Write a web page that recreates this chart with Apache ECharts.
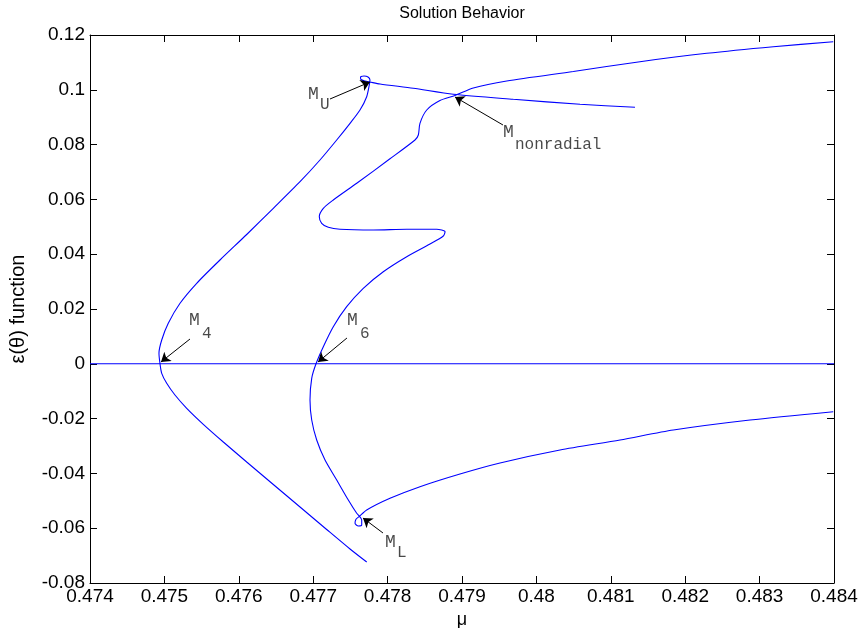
<!DOCTYPE html>
<html><head><meta charset="utf-8">
<script src="https://cdn.jsdelivr.net/npm/echarts@6/dist/echarts.min.js"></script>
<style>html,body{margin:0;padding:0;background:#fff}#c{width:860px;height:628px}</style>
</head><body><div id="c"></div>
<script>
// trivial solution
const trivialBranch = [[0.474, 0], [0.484, 0]];
// branch through M4: right end of upper arm -> M_U loop -> M4 -> lower end
const branchM4 = [
  [0.481325, 0.09361], [0.480586, 0.09471], [0.479690, 0.09653], [0.478883, 0.09836],
  [0.478345, 0.10055], [0.477898, 0.10212], [0.477763, 0.10285], [0.477696, 0.10321],
  [0.477642, 0.10376], [0.477636, 0.10467], [0.477683, 0.10504], [0.477737, 0.10467],
  [0.477763, 0.10358], [0.477754, 0.10175], [0.477719, 0.09748], [0.477629, 0.09263],
  [0.477495, 0.08777], [0.477316, 0.08168], [0.477091, 0.07438], [0.476823, 0.06646],
  [0.476464, 0.05675], [0.476106, 0.04719], [0.475747, 0.03788], [0.475434, 0.02938],
  [0.475210, 0.02208], [0.475052, 0.01478], [0.474964, 0.00869], [0.474927, 0.00383],
  [0.474941, 0.0], [0.474964, -0.00347], [0.475031, -0.00712], [0.475142, -0.01139],
  [0.475300, -0.01624], [0.475523, -0.02208], [0.475792, -0.02854], [0.476106, -0.03584],
  [0.476464, -0.04405], [0.476823, -0.05226], [0.477181, -0.06047], [0.477495, -0.06759],
  [0.477719, -0.07234]
];
// branch through M6: upper right end -> M_nonradial -> S-wiggle -> M6 -> M_L loop -> lower right end
const branchM6 = [
  [0.48399, 0.11755], [0.483184, 0.11573], [0.482289, 0.11332], [0.481392, 0.11026],
  [0.480496, 0.10668], [0.479601, 0.10321], [0.479152, 0.10066], [0.478906, 0.09792],
  [0.478704, 0.09609], [0.478526, 0.09263], [0.478435, 0.08777], [0.478413, 0.08350],
  [0.478368, 0.08168], [0.478032, 0.07482], [0.477585, 0.06588], [0.477270, 0.05978],
  [0.477136, 0.05675], [0.477082, 0.05369], [0.477114, 0.05128], [0.477203, 0.04982],
  [0.477360, 0.04909], [0.477808, 0.04883], [0.478257, 0.04909], [0.478660, 0.04909],
  [0.478772, 0.04821], [0.478749, 0.04664], [0.478570, 0.04372], [0.478257, 0.03909],
  [0.477942, 0.03361], [0.477673, 0.02755], [0.477450, 0.02084], [0.477270, 0.01354],
  [0.477136, 0.00624], [0.477038, 0.0], [0.476980, -0.00529], [0.476957, -0.01321],
  [0.476980, -0.02051], [0.477047, -0.02781], [0.477159, -0.03511], [0.477316, -0.04241],
  [0.477472, -0.04971], [0.477585, -0.05456], [0.477616, -0.05544], [0.477652, -0.05701],
  [0.477652, -0.05883], [0.477606, -0.05920], [0.477562, -0.05821], [0.477575, -0.05675],
  [0.477616, -0.05580], [0.477719, -0.05336], [0.478032, -0.04909], [0.478435, -0.04485],
  [0.478973, -0.04022], [0.479511, -0.03620], [0.480317, -0.03146], [0.481124, -0.02781],
  [0.481840, -0.02416], [0.482871, -0.02051], [0.48399, -0.01748]
];
// annotation texts and arrows
const labelSubs = ['U', 'nonradial', '4', '6', 'L'];
const labelMPos = [[0.476930, 0.10175], [0.479551, 0.08763], [0.475330, 0.01927], [0.477454, 0.01927], [0.477965, -0.06175]];
const labelSubPos = [[0.477091, 0.09737], [0.479712, 0.08277], [0.475505, 0.01380], [0.477629, 0.01380], [0.478126, -0.06613]];
const arrowTails = [[0.477226, 0.09664], [0.479551, 0.08715], [0.475344, 0.00905], [0.477454, 0.00942], [0.477938, -0.06175]];
const arrowHeads = [[0.477763, 0.10285], [0.478906, 0.09737], [0.474954, 0.00066], [0.477065, 0.00066], [0.477669, -0.05628]];

const chart = echarts.init(document.getElementById('c'), null, {renderer: 'canvas'});
const sansFont = 'Liberation Sans, Arial, Helvetica, sans-serif';
const monoFont = 'Liberation Mono, Courier New, monospace';
const tickStyle = {show: true, inside: true, length: 7, lineStyle: {color: '#000', width: 1}};
const lineAxis = {show: true, onZero: false, lineStyle: {color: '#000', width: 1}};

const curveSeries = (data) => ({
  type: 'line', data, showSymbol: false, symbol: 'none', smooth: 0.25,
  lineStyle: {color: '#0000ff', width: 1.1}, itemStyle: {color: '#0000ff'},
  animation: false, silent: true, z: 2
});

const option = {
  animation: false,
  backgroundColor: '#fff',
  grid: {left: 90, right: 26, top: 35, bottom: 45, containLabel: false, outerBoundsMode: 'none'},
  graphic: [{
    type: 'text', x: 462, y: 6,
    style: {text: 'Solution Behavior', textAlign: 'center', fill: '#000', font: '16px ' + sansFont}
  }],
  xAxis: [{
    type: 'value', min: 0.474, max: 0.484, interval: 0.001, position: 'bottom',
    name: 'μ', nameLocation: 'middle', nameGap: 19,
    nameTextStyle: {color: '#000', fontSize: 18, fontFamily: sansFont},
    axisLine: lineAxis, axisTick: tickStyle, splitLine: {show: false},
    axisLabel: {color: '#000', fontSize: 19, fontFamily: sansFont, margin: 4}
  }, {
    type: 'value', min: 0.474, max: 0.484, interval: 0.001, position: 'top',
    axisLine: lineAxis, axisTick: tickStyle, splitLine: {show: false}, axisLabel: {show: false}
  }],
  yAxis: [{
    type: 'value', min: -0.08, max: 0.12, interval: 0.02, position: 'left',
    name: 'ε(θ) function', nameLocation: 'middle', nameGap: 62, nameRotate: 90,
    nameTextStyle: {color: '#000', fontSize: 20, fontFamily: sansFont},
    axisLine: lineAxis, axisTick: tickStyle, splitLine: {show: false},
    axisLabel: {color: '#000', fontSize: 19, fontFamily: sansFont, margin: 5}
  }, {
    type: 'value', min: -0.08, max: 0.12, interval: 0.02, position: 'right',
    axisLine: lineAxis, axisTick: tickStyle, splitLine: {show: false}, axisLabel: {show: false}
  }],
  series: [
    curveSeries(trivialBranch),
    curveSeries(branchM4),
    curveSeries(branchM6),
    {
      type: 'lines', coordinateSystem: 'cartesian2d', polyline: false,
      data: arrowTails.map((t, i) => ({coords: [t, arrowHeads[i]]})),
      symbol: ['none', 'arrow'], symbolSize: [0, 9],
      lineStyle: {color: '#000', width: 1, opacity: 1, curveness: 0},
      effect: {show: false}, silent: true, z: 5
    },
    {
      type: 'scatter', symbolSize: 0, silent: true, z: 6,
      data: labelMPos.map(p => ({value: p})),
      label: {show: true, position: [0, 0], align: 'left', verticalAlign: 'top',
        formatter: 'M', color: '#1a1a1a', fontSize: 18, fontFamily: monoFont}
    },
    {
      type: 'scatter', symbolSize: 0, silent: true, z: 6,
      data: labelSubPos.map(p => ({value: p})),
      label: {show: true, position: [0, 0], align: 'left', verticalAlign: 'top',
        formatter: (p) => labelSubs[p.dataIndex], color: '#1a1a1a', fontSize: 16, fontFamily: monoFont}
    }
  ]
};
chart.setOption(option);
</script></body></html>
